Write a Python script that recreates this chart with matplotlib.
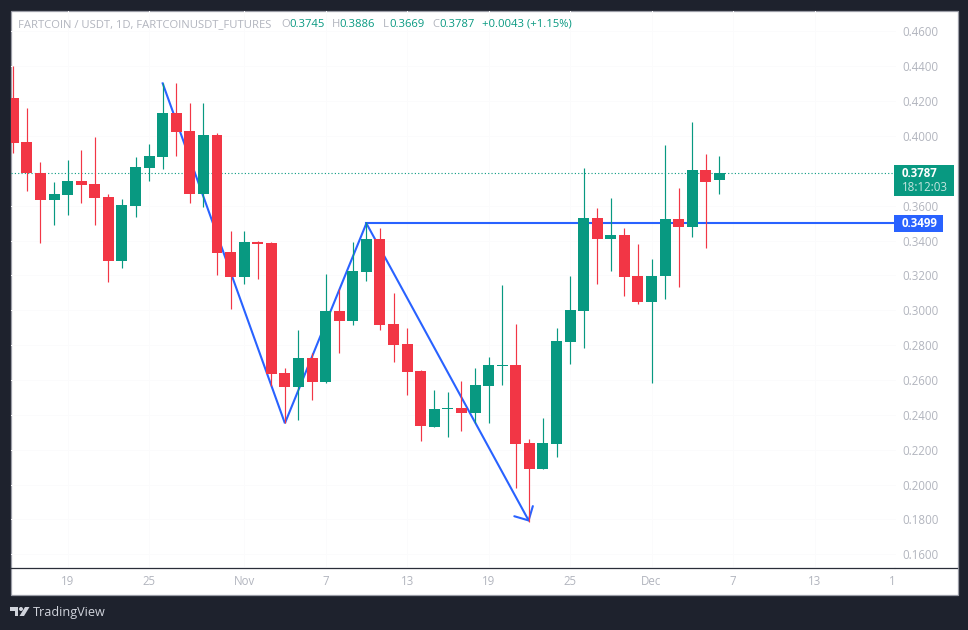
################################################################################
### FARTCOIN / USDT DAILY CANDLES WITH ZIGZAG DRAWING
################################################################################

import numpy as np
import pandas as pd
import matplotlib
matplotlib.use('Agg')
import matplotlib.pyplot as plt
import matplotlib.dates as mdates
from matplotlib.patches import Rectangle, Polygon, Circle
from matplotlib.transforms import IdentityTransform

###############################################################################
# DATA
###############################################################################

START_DATE = '2025-10-15'

OPENS = [0.4218, 0.3966, 0.3786, 0.3635, 0.3663, 0.3742, 0.3725, 0.3650, 0.3285, 0.3600,
         0.3818, 0.3881, 0.4132, 0.4029, 0.3669, 0.4006, 0.3334, 0.3193, 0.3392, 0.3386,
         0.2640, 0.2562, 0.2726, 0.2590, 0.2996, 0.2940, 0.3221, 0.3409, 0.2921, 0.2807,
         0.2652, 0.2332, 0.2435, 0.2440, 0.2411, 0.2566, 0.2682, 0.2686, 0.2239, 0.2091,
         0.2235, 0.2820, 0.2998, 0.3530, 0.3411, 0.3432, 0.3197, 0.3049, 0.3198, 0.3524,
         0.3480, 0.3805, 0.3745]
HIGHS = [0.4402, 0.4161, 0.3851, 0.3736, 0.3862, 0.3920, 0.3994, 0.3667, 0.3639, 0.3880,
         0.3954, 0.4302, 0.4304, 0.4189, 0.4189, 0.4017, 0.3457, 0.3455, 0.3398, 0.3392,
         0.2669, 0.2887, 0.2755, 0.3208, 0.3122, 0.3392, 0.3507, 0.3472, 0.3099, 0.2899,
         0.2658, 0.2543, 0.2531, 0.2594, 0.2669, 0.2732, 0.3145, 0.2921, 0.2262, 0.2382,
         0.2899, 0.3197, 0.3816, 0.3587, 0.3644, 0.3472, 0.3380, 0.3294, 0.3948, 0.3702,
         0.4080, 0.3897, 0.3886]
LOWS = [0.3904, 0.3686, 0.3388, 0.3491, 0.3548, 0.3617, 0.3491, 0.3164, 0.3244, 0.3537,
        0.3744, 0.3812, 0.3887, 0.3617, 0.3594, 0.3204, 0.3009, 0.3153, 0.3181, 0.2567,
        0.2352, 0.2372, 0.2487, 0.2583, 0.2757, 0.2917, 0.3170, 0.2889, 0.2705, 0.2516,
        0.2252, 0.2332, 0.2275, 0.2309, 0.2352, 0.2355, 0.2571, 0.1981, 0.1787, 0.2091,
        0.2160, 0.2694, 0.2785, 0.3153, 0.3227, 0.3084, 0.3038, 0.2585, 0.3067, 0.3135,
        0.3422, 0.3359, 0.3669]
CLOSES = [0.3962, 0.3786, 0.3635, 0.3667, 0.3742, 0.3721, 0.3646, 0.3285, 0.3604, 0.3822,
          0.3885, 0.4132, 0.4025, 0.3669, 0.4006, 0.3330, 0.3193, 0.3392, 0.3380, 0.2636,
          0.2562, 0.2726, 0.2590, 0.2996, 0.2940, 0.3225, 0.3409, 0.2917, 0.2803, 0.2648,
          0.2338, 0.2434, 0.2441, 0.2411, 0.2571, 0.2686, 0.2688, 0.2235, 0.2091, 0.2239,
          0.2824, 0.3002, 0.3530, 0.3411, 0.3432, 0.3193, 0.3049, 0.3197, 0.3524, 0.3480,
          0.3805, 0.3738, 0.3787]

# Zigzag drawing on top of the chart
ZIGZAG_DATES = ['2025-10-26', '2025-11-04', '2025-11-10', '2025-11-22']
ZIGZAG_PRICES = [0.4302, 0.2352, 0.3499, 0.1787]
LEVEL_DATE = '2025-11-10'
LEVEL_PRICE = 0.3499
LAST_PRICE = 0.3787
COUNTDOWN = '18:12:03'

PRICE_TICKS = [0.16, 0.18, 0.20, 0.22, 0.24, 0.26, 0.28, 0.30, 0.32, 0.34, 0.36, 0.40, 0.42, 0.44, 0.46]
TIME_TICKS = ['2025-10-19', '2025-10-25', '2025-11-01', '2025-11-07', '2025-11-13', '2025-11-19',
              '2025-11-25', '2025-12-01', '2025-12-07', '2025-12-13', '2025-12-19']
TIME_LABELS = ['19', '25', 'Nov', '7', '13', '19', '25', 'Dec', '7', '13', '1']

TITLE = 'FARTCOIN / USDT, 1D, FARTCOINUSDT_FUTURES'
OHLC_LABELS = ['O', 'H', 'L', 'C']
OHLC_VALUES = ['0.3745', '0.3886', '0.3669', '0.3787']
CHANGE_TEXT = '+0.0043 (+1.15%)'

###############################################################################
# STYLE
###############################################################################

WIDTH, HEIGHT = 968, 630
FONT = 'Open Sans'
DARK = '#1e222d'
BORDER = '#9a9ca6'
GREY_TEXT = '#b2b5be'
GREEN = '#089981'
RED = '#f23645'
BLUE = '#2962ff'

# the right edge sits a little past the scale border so the clipped Dec 19 tick still exists
PLOT_LEFT, PLOT_RIGHT, PLOT_TOP, PLOT_BOTTOM = 11, 896, 11, 567
Y_TOP, Y_BOTTOM = 0.47171, 0.15273
DAY_PX = 13.58
FIRST_CANDLE_PX = 13.3

plt.rcParams['font.family'] = [FONT, 'DejaVu Sans']


def flip(y):
    # pixels from the top of the image to display coordinates
    return HEIGHT - y


def add_px_patch(fig, patch):
    patch.set_transform(IdentityTransform())
    fig.add_artist(patch)


def add_px_text(fig, x, y, text, **kwargs):
    fig.text(x / WIDTH, flip(y) / HEIGHT, text, va='center', **kwargs)


###############################################################################
# FIGURE
###############################################################################

fig = plt.figure(figsize=(WIDTH / 100, HEIGHT / 100), dpi=100, facecolor=DARK)

# white panel behind everything
add_px_patch(fig, Rectangle((10.5, flip(594.5)), 947, 584, facecolor='white', edgecolor=BORDER,
                            linewidth=0.9, zorder=-5))

ax = fig.add_axes([PLOT_LEFT / WIDTH, flip(PLOT_BOTTOM) / HEIGHT,
                   (PLOT_RIGHT - PLOT_LEFT) / WIDTH, (PLOT_BOTTOM - PLOT_TOP) / HEIGHT])
ax.patch.set_alpha(0)

dates = pd.date_range(START_DATE, periods=len(OPENS))
x = mdates.date2num(dates)
opens, highs, lows, closes = map(np.array, (OPENS, HIGHS, LOWS, CLOSES))
colors = [GREEN if c >= o else RED for o, c in zip(opens, closes)]

# faint grid
ax.set_axisbelow(True)
ax.grid(True, color='#fbfbfc', linewidth=0.7)

# level, last price and zigzag stay behind the candles
x_right = x[0] + (PLOT_RIGHT - FIRST_CANDLE_PX) / DAY_PX
ax.axhline(LAST_PRICE, color=GREEN, linewidth=0.8, linestyle=(0, (1, 2)), zorder=1)
zig_x = mdates.date2num(pd.to_datetime(ZIGZAG_DATES))
ax.plot(zig_x[:-1], ZIGZAG_PRICES[:-1], color=BLUE, linewidth=1.5, solid_joinstyle='miter', zorder=1.5)
ax.annotate('', xy=(zig_x[-1], ZIGZAG_PRICES[-1]), xytext=(zig_x[-2], ZIGZAG_PRICES[-2]), zorder=1.5,
            arrowprops=dict(arrowstyle='->,head_length=7.6,head_width=7.6', mutation_scale=1, color=BLUE,
                            linewidth=1.5, shrinkA=0, shrinkB=0))
level_x = mdates.date2num(pd.to_datetime(LEVEL_DATE))
ax.plot([level_x, x_right], [LEVEL_PRICE, LEVEL_PRICE], color=BLUE, linewidth=1.5, zorder=1.5)

# candles
ax.vlines(x, lows, highs, colors=colors, linewidth=0.85, zorder=2)
ax.bar(x, np.abs(closes - opens), bottom=np.minimum(opens, closes), width=0.81, color=colors, linewidth=0,
       zorder=3)

# axes
for spine in ax.spines.values():
    spine.set_visible(False)
ax.yaxis.tick_right()
ax.set_yticks(PRICE_TICKS)
ax.set_yticklabels([f'{p:.4f}' for p in PRICE_TICKS])
ax.set_xticks(mdates.date2num(pd.to_datetime(TIME_TICKS)))
ax.set_xticklabels(TIME_LABELS)
ax.tick_params(axis='y', length=0, pad=4.3, labelsize=8.3, labelcolor=GREY_TEXT)
ax.tick_params(axis='x', length=0, pad=6, labelsize=8.3, labelcolor=GREY_TEXT)
ax.get_xticklabels()[-1].set_ha('right')

# set_xticks can widen the view, so the limits come last
ax.set_xlim(x[0] - (FIRST_CANDLE_PX - PLOT_LEFT) / DAY_PX, x_right)
ax.set_ylim(Y_BOTTOM, Y_TOP)

# separator between chart and time scale
fig.add_artist(plt.Line2D([11 / WIDTH, 893.5 / WIDTH], [flip(567.5) / HEIGHT] * 2, color='#2a2e39', linewidth=0.9))
fig.add_artist(plt.Line2D([895 / WIDTH, 957 / WIDTH], [flip(567.5) / HEIGHT] * 2, color='#2a2e39', linewidth=0.9))

# price tags on the scale
fig.canvas.draw()
last_y = ax.transData.transform((x[0], LAST_PRICE))[1]
level_y = ax.transData.transform((x[0], LEVEL_PRICE))[1]
add_px_patch(fig, Rectangle((894, last_y - 23), 60, 31, facecolor=GREEN, edgecolor='none'))
add_px_patch(fig, Rectangle((894, level_y - 8.5), 49, 17, facecolor=BLUE, edgecolor='none'))
fig.text(902 / WIDTH, (last_y - 0.5) / HEIGHT, f'{LAST_PRICE:.4f}', color='white', fontsize=8.3, fontweight='bold',
         va='center')
fig.text(902 / WIDTH, (last_y - 14.5) / HEIGHT, COUNTDOWN, color='#c5e6e0', fontsize=8.3, va='center')
fig.text(902 / WIDTH, level_y / HEIGHT, f'{LEVEL_PRICE:.4f}', color='white', fontsize=8.3, fontweight='bold',
         va='center')

# header line
add_px_text(fig, 18, 24.5, TITLE, color=GREY_TEXT, fontsize=8.15)
for label, value, lx, vx in zip(OHLC_LABELS, OHLC_VALUES, [281, 331.5, 382.5, 432], [289, 339.5, 389, 439.5]):
    add_px_text(fig, lx, 24.5, label, color=GREY_TEXT, fontsize=8.15)
    add_px_text(fig, vx, 24.5, value, color=GREEN, fontsize=8.15)
add_px_text(fig, 482.5, 24.5, CHANGE_TEXT, color=GREEN, fontsize=8.15)

# logo
add_px_patch(fig, Polygon([(10, flip(607)), (18, flip(607)), (18, flip(616)), (14.5, flip(616)), (14.5, flip(610.5)),
                           (10, flip(610.5))], facecolor='#d1d4dc', edgecolor='none'))
add_px_patch(fig, Circle((21, flip(609)), 2, facecolor='#d1d4dc', edgecolor='none'))
add_px_patch(fig, Polygon([(25, flip(607)), (29.5, flip(607)), (24, flip(616)), (19.5, flip(616))],
                          facecolor='#d1d4dc', edgecolor='none'))
add_px_text(fig, 33, 612.5, 'TradingView', color='#d1d4dc', fontsize=9.1)

fig.savefig('out.png', dpi=100, facecolor=DARK)
